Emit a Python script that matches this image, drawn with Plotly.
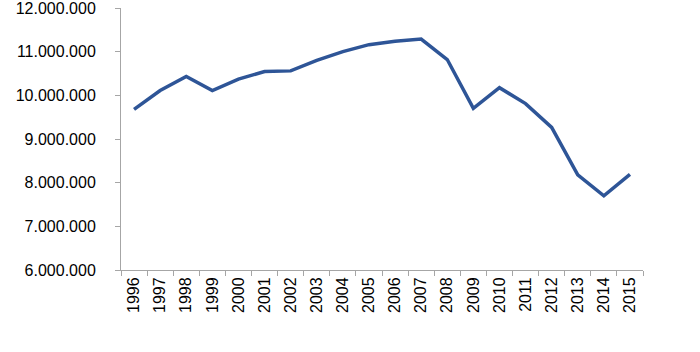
import plotly.graph_objects as go

years = [str(y) for y in range(1996, 2016)]
values = [9680000, 10110000, 10430000, 10110000, 10370000, 10545000, 10560000, 10800000,
          11000000, 11160000, 11240000, 11290000, 10820000, 9700000, 10175000, 9810000,
          9265000, 8180000, 7700000, 8190000]
y_ticks = [6000000, 7000000, 8000000, 9000000, 10000000, 11000000, 12000000]

fig = go.Figure()
fig.add_trace(go.Scatter(x=years, y=values, mode="lines",
                         line=dict(color="#2E5597", width=3.5), hoverinfo="skip"))

axis_color = "#A6A6A6"
fig.update_layout(
    template="none",
    width=700, height=352,
    margin=dict(l=121, r=57, t=7.5, b=81.5, autoexpand=False),
    paper_bgcolor="white", plot_bgcolor="white",
    separators=",.",
    showlegend=False,
    font=dict(family="Liberation Sans Narrow, Arial Narrow, Liberation Sans, sans-serif",
              size=16, color="#000000"),
)
fig.update_xaxes(
    type="category", range=[-0.5, 19.5], tickangle=-90, automargin=False,
    showline=True, linecolor=axis_color, linewidth=1,
    ticks="outside", tickson="boundaries", ticklen=5, tickcolor=axis_color,
    showgrid=False, zeroline=False, fixedrange=True, ticklabelstandoff=0,
)
fig.update_yaxes(
    range=[6000000, 12000000], tickvals=y_ticks, tickformat=",.0f", automargin=False,
    showline=True, linecolor=axis_color, linewidth=1,
    ticks="outside", ticklen=5, tickcolor=axis_color, ticklabeloverflow="allow",
    showgrid=False, zeroline=False, fixedrange=True, ticklabelstandoff=16,
)

fig.write_html("out.html", config={"displayModeBar": False},
               post_script="document.body.style.margin='0';")
